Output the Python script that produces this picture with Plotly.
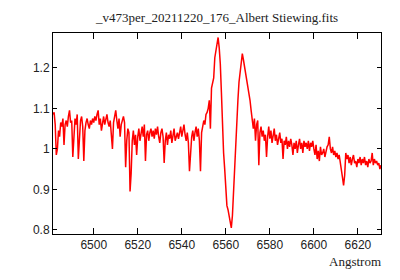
import plotly.graph_objects as go

# Wavelength grid of the spectrum (FITS-style: start value and step)
CRVAL1 = 6481.5
CDELT1 = 0.5

# Relative flux (0.5 Angstrom steps)
flux = [
    # 6481.5 - 6491.0
    1.085, 1.09, 1.06, 0.985, 1.00, 1.045, 1.03, 1.065, 1.055, 1.075,
    1.01, 1.06, 1.07, 1.055, 1.08, 1.095, 1.065, 1.07, 0.98, 1.05,
    # 6491.5 - 6501.0
    1.075, 1.06, 1.085, 0.975, 1.04, 1.07, 1.08, 1.055, 0.97, 1.045,
    1.065, 1.075, 1.06, 1.05, 1.07, 1.06, 1.075, 1.065, 1.08, 1.07,
    # 6501.5 - 6511.0
    1.085, 1.095, 1.06, 1.075, 1.045, 1.07, 1.08, 1.06, 1.075, 1.085,
    1.065, 1.055, 1.07, 1.04, 1.00, 1.065, 1.085, 1.095, 1.07, 1.05,
    # 6511.5 - 6521.0
    1.075, 1.03, 1.06, 1.07, 1.08, 1.065, 0.955, 1.02, 1.05, 1.04,
    0.895, 0.94, 1.02, 1.045, 1.01, 1.035, 0.985, 1.03, 1.05, 1.02,
    # 6521.5 - 6531.0
    1.04, 1.055, 1.03, 1.06, 0.97, 1.035, 1.045, 1.02, 1.04, 1.05,
    1.03, 1.045, 1.025, 1.05, 1.035, 1.055, 1.03, 1.015, 1.04, 1.05,
    # 6531.5 - 6541.0
    1.03, 0.965, 1.02, 1.04, 1.01, 1.035, 1.025, 1.045, 1.015, 1.03,
    1.05, 1.02, 1.035, 1.04, 1.025, 1.045, 1.055, 1.03, 1.045, 1.06,
    # 6541.5 - 6551.0
    1.035, 1.02, 1.04, 1.015, 0.945, 1.00, 1.03, 1.045, 1.02, 1.04,
    1.055, 1.03, 1.05, 1.02, 0.945, 1.04, 1.055, 1.07, 1.06, 1.085,
    # 6551.5 - 6561.0
    1.09, 1.10, 1.12, 1.05, 1.15, 1.16, 1.175, 1.225, 1.245, 1.265,
    1.275, 1.25, 1.21, 1.14, 1.03, 0.99, 0.95, 0.90, 0.86, 0.85,
    # 6561.5 - 6571.0
    0.835, 0.82, 0.805, 0.835, 0.90, 0.955, 1.00, 1.08, 1.12, 1.165,
    1.195, 1.225, 1.235, 1.22, 1.205, 1.19, 1.175, 1.16, 1.14, 1.12,
    # 6571.5 - 6581.0
    1.095, 1.07, 1.05, 1.075, 1.02, 1.06, 1.07, 0.96, 1.04, 1.055,
    1.03, 1.045, 1.02, 1.035, 0.98, 1.03, 1.055, 1.025, 1.045, 1.015,
    # 6581.5 - 6591.0
    1.04, 1.05, 1.02, 1.035, 1.01, 1.03, 1.04, 1.015, 1.025, 0.975,
    1.02, 1.01, 1.03, 1.00, 1.02, 1.005, 1.025, 1.01, 0.985, 1.015,
    # 6591.5 - 6601.0
    1.00, 1.02, 0.99, 1.01, 1.025, 1.00, 1.015, 0.99, 1.02, 1.005,
    1.015, 1.00, 1.02, 0.995, 1.015, 1.005, 1.02, 1.00, 0.985, 1.01,
    # 6601.5 - 6611.0
    0.975, 0.995, 0.97, 1.005, 0.985, 0.99, 1.00, 0.98, 0.995, 1.005,
    1.01, 1.03, 1.00, 0.99, 1.005, 0.985, 0.995, 0.98, 0.99, 0.975,
    # 6611.5 - 6621.0
    0.985, 0.97, 0.945, 0.93, 0.91, 0.935, 0.99, 0.975, 0.985, 0.965,
    0.98, 0.96, 0.975, 0.985, 0.965, 0.97, 0.955, 0.975, 0.965, 0.98,
    # 6621.5 - 6630.5
    0.96, 0.975, 0.965, 0.98, 0.96, 0.97, 0.955, 0.975, 0.965, 0.97,
    0.99, 0.96, 0.975, 0.965, 0.97, 0.96, 0.965, 0.95, 0.96,
]

wavelength = [CRVAL1 + CDELT1 * i for i in range(len(flux))]

x_tick_vals = [6500, 6520, 6540, 6560, 6580, 6600, 6620]
x_tick_text = ["6500", "6520", "6540", "6560", "6580", "6600", "6620"]
y_tick_vals = [0.8, 0.9, 1.0, 1.1, 1.2]
y_tick_text = ["0.8", "0.9", "1", "1.1", "1.2"]

title_text = "_v473per_20211220_176_Albert Stiewing.fits"
x_label = "Angstrom"

fig = go.Figure()
fig.add_trace(go.Scatter(
    x=wavelength, y=flux, mode="lines",
    line=dict(color="#ff0000", width=1.5),
    showlegend=False, hoverinfo="skip",
))

axis_common = dict(
    showgrid=False, zeroline=False,
    showline=True, linecolor="black", linewidth=1, mirror="allticks",
    ticks="inside", tickcolor="black", tickwidth=1,
    tickfont=dict(family="Liberation Sans", size=12, color="#222222"),
)

fig.update_layout(
    width=400, height=280,
    margin=dict(l=53, r=19, t=33, b=46),
    paper_bgcolor="white", plot_bgcolor="white",
    title=dict(text=title_text, x=0.5, xref="paper", xanchor="center",
               y=1 - 17 / 280, yref="container", yanchor="middle",
               font=dict(family="Liberation Serif", size=13, color="#222222")),
    xaxis=dict(range=[6481.5, 6630.5], tickvals=x_tick_vals, ticktext=x_tick_text,
               ticklen=6, **axis_common),
    yaxis=dict(range=[0.79, 1.286], tickvals=y_tick_vals, ticktext=y_tick_text,
               ticklen=4, **axis_common),
    annotations=[dict(text=x_label, xref="paper", yref="paper", x=1, y=-0.139,
                      xanchor="right", yanchor="middle", xshift=2, showarrow=False,
                      font=dict(family="Liberation Serif", size=13, color="#222222"))],
)

fig.write_html("out.html", config={"displayModeBar": False},
               post_script="document.body.style.margin='0';")
